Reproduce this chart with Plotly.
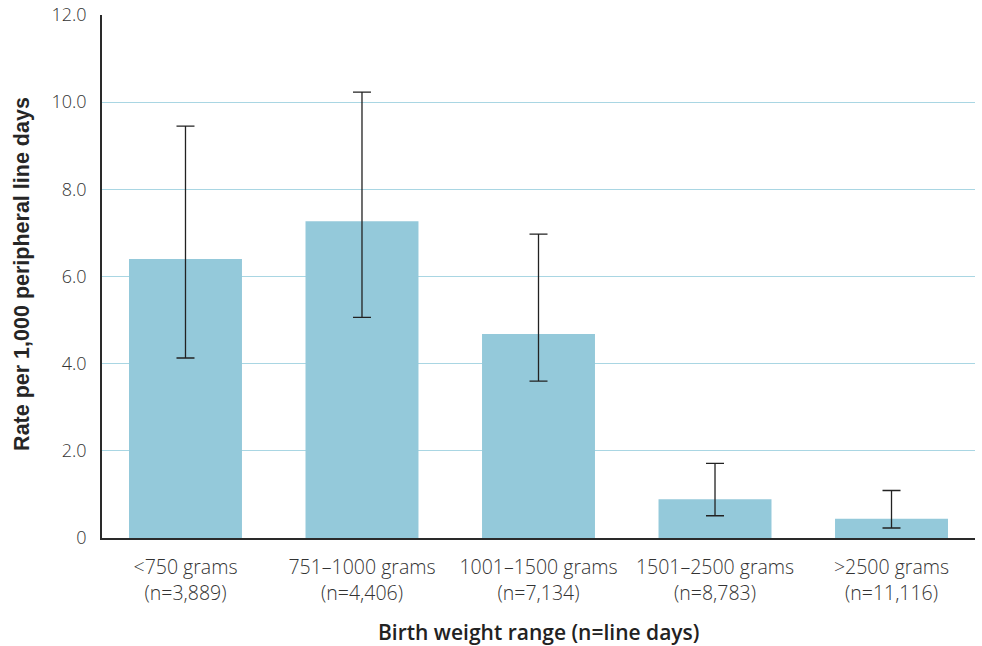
import plotly.graph_objects as go

# Birth weight categories with line-day counts
categories = ["<750 grams", "751–1000 grams", "1001–1500 grams", "1501–2500 grams", ">2500 grams"]
line_days = ["3,889", "4,406", "7,134", "8,783", "11,116"]
rates = [6.40, 7.27, 4.68, 0.89, 0.44]
ci_upper = [9.45, 10.23, 6.97, 1.71, 1.09]
ci_lower = [4.13, 5.06, 3.60, 0.51, 0.23]

tick_vals = [0, 2, 4, 6, 8, 10, 12]
tick_text = ["0", "2.0", "4.0", "6.0", "8.0", "10.0", "12.0"]

x_pos = list(range(len(categories)))
x_labels = [f"{c}<br>(n={n})" for c, n in zip(categories, line_days)]

err_plus = [u - r for u, r in zip(ci_upper, rates)]
err_minus = [r - l for r, l in zip(rates, ci_lower)]

FONT = "'Open Sans', Lato, sans-serif"
PLOT_H = 646 - 15 - 108  # plot area height in px

fig = go.Figure()
fig.add_trace(go.Bar(
    x=x_pos,
    y=rates,
    width=0.64,
    marker=dict(color="#94C9DA", line=dict(width=0)),
    error_y=dict(
        type="data",
        symmetric=False,
        array=err_plus,
        arrayminus=err_minus,
        color="#222222",
        thickness=1.3,
        width=9,
    ),
    hoverinfo="skip",
))

fig.update_layout(
    width=982,
    height=646,
    margin=dict(l=102, r=7, t=15, b=108),
    plot_bgcolor="white",
    paper_bgcolor="white",
    showlegend=False,
    xaxis=dict(
        range=[-0.473, 4.473],
        tickmode="array",
        tickvals=x_pos,
        ticktext=x_labels,
        tickfont=dict(family=FONT, size=19.5, color="#333333", weight=300),
        ticks="outside",
        ticklen=11,
        tickcolor="rgba(0,0,0,0)",
        showgrid=False,
        showline=True,
        linecolor="#2a2a2a",
        linewidth=1.5,
        zeroline=False,
        automargin=False,
    ),
    yaxis=dict(
        range=[0, 12],
        tickmode="array",
        tickvals=tick_vals,
        ticktext=tick_text,
        tickfont=dict(family=FONT, size=18, color="#333333", weight=300),
        ticks="outside",
        ticklen=10,
        tickcolor="rgba(0,0,0,0)",
        showgrid=True,
        gridcolor="#A9D6E3",
        gridwidth=1.2,
        showline=True,
        linecolor="#2a2a2a",
        linewidth=1.5,
        zeroline=False,
        automargin=False,
    ),
    annotations=[
        dict(
            text="Birth weight range (n=line days)",
            xref="paper", yref="paper",
            x=0.5, y=-94 / PLOT_H,
            xanchor="center", yanchor="middle",
            showarrow=False,
            font=dict(family=FONT, size=21, color="#222222", weight=600),
        ),
        dict(
            text="Rate per 1,000 peripheral line days",
            xref="paper", yref="paper",
            x=-80 / 873, y=0.505,
            xanchor="center", yanchor="middle",
            textangle=-90,
            showarrow=False,
            font=dict(family="'Liberation Sans', Arial, sans-serif", size=21.5, color="#262626", weight="bold"),
        ),
    ],
)

fig.write_html("out.html")
